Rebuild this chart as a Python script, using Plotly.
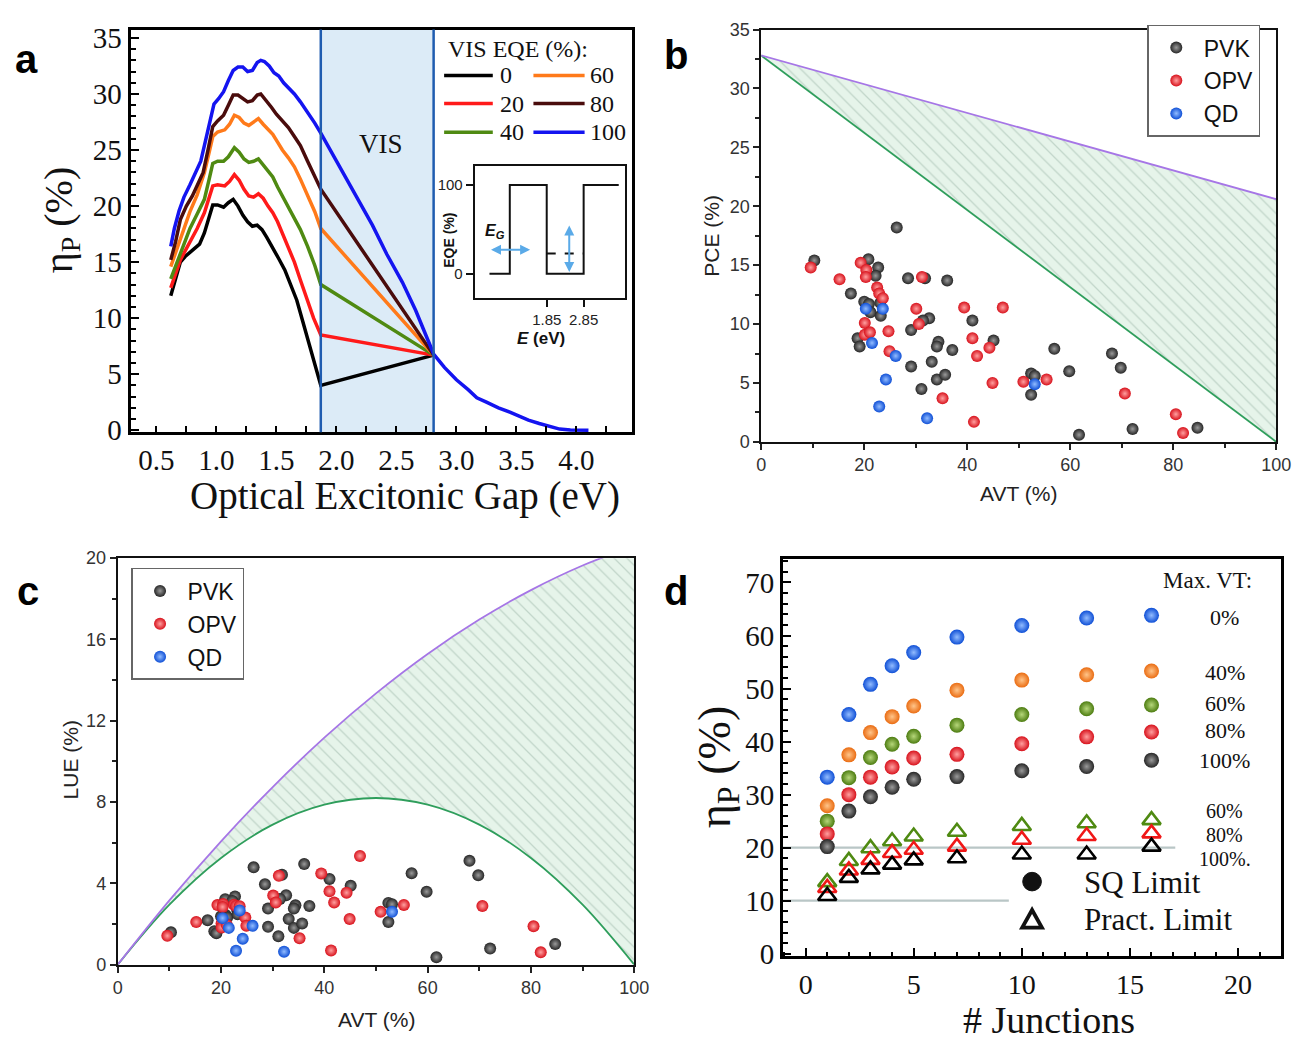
import plotly.graph_objects as go

W, H = 1309, 1050
SERIF = "Liberation Serif"
SANS = "Liberation Sans"


def fx(px):
    return px / W


def fy(py):
    return 1 - py / H


# ---------------- panel a: eta_P vs optical excitonic gap ----------------
gap_eqe0 = [0.62, 0.66, 0.70, 0.74, 0.78, 0.82, 0.86, 0.90, 0.94, 0.97, 1.01, 1.06, 1.10, 1.14,
            1.18, 1.22, 1.26, 1.30, 1.34, 1.38, 1.42, 1.47, 1.52, 1.57, 1.62, 1.67, 1.72, 1.77,
            1.82, 1.87, 2.81]
eta_eqe0 = [12.0, 13.6, 15.0, 15.5, 15.9, 16.3, 16.6, 17.6, 19.0, 20.1, 20.1, 19.9, 20.3, 20.6,
            20.0, 19.2, 18.6, 18.2, 18.3, 17.9, 17.2, 16.3, 15.3, 14.3, 13.0, 11.6, 9.7, 7.8,
            5.9, 4.0, 6.7]

gap_eqe20 = [0.62, 0.66, 0.70, 0.74, 0.78, 0.84, 0.90, 0.94, 0.97, 1.01, 1.07, 1.11, 1.15, 1.19,
             1.23, 1.27, 1.31, 1.35, 1.39, 1.43, 1.47, 1.51, 1.55, 1.60, 1.65, 1.70, 1.75, 1.81,
             1.87, 2.81]
eta_eqe20 = [12.7, 13.9, 15.2, 16.0, 16.8, 18.0, 19.4, 20.8, 21.8, 21.9, 21.8, 22.2, 22.8, 22.3,
             21.5, 20.9, 20.8, 21.1, 20.7, 20.0, 19.4, 18.6, 17.6, 16.3, 15.0, 13.4, 11.8, 10.0,
             8.5, 6.7]

gap_eqe40 = [0.62, 0.66, 0.70, 0.74, 0.78, 0.84, 0.90, 0.94, 0.97, 1.01, 1.06, 1.10, 1.15, 1.19,
             1.23, 1.27, 1.31, 1.35, 1.39, 1.43, 1.47, 1.51, 1.55, 1.60, 1.65, 1.70, 1.76, 1.82,
             1.87, 2.81]
eta_eqe40 = [13.5, 14.6, 15.9, 17.0, 18.0, 19.3, 20.6, 22.4, 23.8, 24.0, 24.0, 24.4, 25.2, 24.8,
             24.2, 23.9, 24.0, 24.2, 23.7, 23.1, 22.6, 21.7, 20.9, 20.0, 19.0, 17.9, 16.4, 14.7,
             13.0, 6.7]

gap_eqe60 = [0.62, 0.66, 0.70, 0.74, 0.78, 0.84, 0.90, 0.94, 0.97, 1.01, 1.07, 1.11, 1.15, 1.19,
             1.23, 1.27, 1.31, 1.35, 1.39, 1.43, 1.47, 1.51, 1.55, 1.60, 1.65, 1.70, 1.76, 1.82,
             1.87, 2.81]
eta_eqe60 = [14.6, 15.8, 17.2, 18.4, 19.5, 21.0, 23.0, 24.8, 26.2, 26.6, 26.8, 27.3, 28.1, 27.9,
             27.4, 27.2, 27.5, 27.8, 27.3, 26.9, 26.4, 25.7, 25.0, 24.3, 23.5, 22.4, 21.0, 19.5,
             18.0, 6.7]

gap_eqe80 = [0.62, 0.66, 0.70, 0.75, 0.80, 0.85, 0.89, 0.93, 0.97, 1.01, 1.06, 1.10, 1.14, 1.18,
             1.22, 1.26, 1.30, 1.34, 1.37, 1.41, 1.46, 1.50, 1.55, 1.60, 1.65, 1.70, 1.76, 1.82,
             1.87, 2.81]
eta_eqe80 = [15.2, 16.8, 18.8, 20.0, 20.9, 22.0, 23.0, 25.0, 27.1, 27.6, 28.1, 29.0, 29.9, 29.9,
             29.6, 29.3, 29.4, 29.9, 30.0, 29.5, 28.8, 28.2, 27.6, 27.0, 26.2, 25.4, 24.0, 22.7,
             21.5, 6.7]

gap_eqe100 = [0.62, 0.65, 0.69, 0.73, 0.78, 0.83, 0.87, 0.90, 0.94, 0.98, 1.02, 1.06, 1.10, 1.14,
              1.18, 1.22, 1.26, 1.30, 1.34, 1.37, 1.40, 1.44, 1.48, 1.52, 1.56, 1.60, 1.65, 1.70,
              1.76, 1.82, 1.87, 2.00, 2.15, 2.30, 2.42, 2.55, 2.66, 2.81, 2.90, 3.00, 3.10, 3.17,
              3.25, 3.35, 3.45, 3.52, 3.60, 3.69, 3.78, 3.86, 3.95, 4.10]
eta_eqe100 = [16.4, 18.0, 19.6, 20.8, 21.9, 23.0, 24.0, 25.4, 27.2, 29.1, 29.6, 30.2, 31.2, 32.1,
              32.4, 32.4, 32.0, 32.1, 32.8, 33.0, 32.9, 32.5, 31.9, 31.6, 31.0, 30.6, 30.0, 29.3,
              28.4, 27.4, 26.5, 24.0, 21.2, 18.3, 15.7, 13.2, 10.7, 6.8, 5.6, 4.5, 3.6, 2.9,
              2.5, 2.0, 1.6, 1.3, 0.9, 0.6, 0.3, 0.1, 0.03, 0.0]

eqe_curves = [
    ("0", gap_eqe0, eta_eqe0, "#000000"),
    ("20", gap_eqe20, eta_eqe20, "#ff1a1a"),
    ("40", gap_eqe40, eta_eqe40, "#4f8a12"),
    ("60", gap_eqe60, eta_eqe60, "#ff7a1a"),
    ("80", gap_eqe80, eta_eqe80, "#4a0c0c"),
    ("100", gap_eqe100, eta_eqe100, "#1414f0"),
]
vis_band = [1.87, 2.81]

# inset: EQE step profile
step_energy = [0.3, 0.85, 1.85, 2.85, 3.8]
step_eqe = [0, 100, 0, 100, 100]
vis_eqe_energy = [1.85, 2.85]
vis_eqe_level = [23, 23]

# ---------------- panels b, c: reported devices ----------------
pvk_avt = [26.3, 10.3, 20.8, 22.7, 22.2, 28.5, 31.8, 36.1, 17.4, 20.0, 20.9, 23.1, 21.2, 23.2,
           32.6, 31.4, 41.0, 29.1, 18.7, 19.1, 34.4, 34.1, 45.1, 37.1, 29.1, 33.1, 34.1, 35.7,
           31.1, 52.4, 53.1, 52.4, 56.9, 59.8, 61.7, 68.1, 69.8, 72.1, 84.7]
pvk_pce = [18.2, 15.4, 15.5, 14.8, 14.1, 13.9, 13.9, 13.7, 12.6, 11.9, 11.7, 11.8, 11.0, 10.7,
           10.5, 10.3, 10.3, 9.5, 8.8, 8.1, 8.5, 8.1, 8.6, 7.8, 6.4, 6.8, 5.3, 5.7,
           4.5, 5.8, 5.6, 4.0, 7.9, 6.0, 0.6, 7.5, 6.3, 1.1, 1.2]
pvk_lue = [4.79, 1.59, 3.22, 3.36, 3.13, 3.96, 4.42, 4.95, 2.19, 2.38, 2.45, 2.73, 2.33, 2.48,
           3.42, 3.23, 4.22, 2.76, 1.65, 1.55, 2.92, 2.76, 3.88, 2.89, 1.86, 2.25, 1.81, 2.03,
           1.40, 3.04, 2.97, 2.10, 4.50, 3.59, 0.37, 5.11, 4.40, 0.79, 1.02]

opv_avt = [9.6, 15.2, 19.3, 20.4, 20.3, 22.5, 22.9, 23.6, 31.2, 30.1, 20.1, 20.1, 21.1, 24.7,
           30.6, 24.9, 39.4, 46.9, 41.0, 41.9, 44.3, 44.9, 50.9, 55.4, 35.2, 41.3, 70.6, 80.5, 81.9]
opv_pce = [14.8, 13.8, 15.2, 14.6, 14.0, 13.1, 12.6, 12.2, 14.0, 11.3, 10.1, 9.1, 9.3, 9.4,
           10.0, 7.7, 11.4, 11.4, 8.8, 7.3, 8.0, 5.0, 5.1, 5.3, 3.7, 1.7, 4.1, 2.35, 0.75]
opv_lue = [1.42, 2.10, 2.93, 2.98, 2.84, 2.95, 2.89, 2.88, 4.37, 3.40, 2.03, 1.83, 1.96, 2.32,
           3.06, 1.92, 4.49, 5.35, 3.61, 3.06, 3.54, 2.25, 2.60, 2.94, 1.30, 0.70, 2.89, 1.89, 0.61]

qd_avt = [20.3, 23.6, 21.5, 26.1, 24.2, 22.9, 32.2, 53.1]
qd_pce = [11.3, 11.3, 8.4, 7.3, 5.3, 3.0, 2.0, 4.9]
qd_lue = [2.29, 2.67, 1.81, 1.91, 1.28, 0.69, 0.64, 2.60]

# theoretical bounds
bound_avt = [0, 100]
bound_pce_upper = [32.8, 20.6]
bound_pce_lower = [32.8, 0.0]
curve_avt = [0, 10, 20, 30, 40, 50, 60, 70, 80, 90, 100]
bound_lue_upper = [0, 3.16, 6.07, 8.74, 11.17, 13.35, 15.29, 16.98, 18.43, 19.64, 20.6]
bound_lue_lower = [0, 2.95, 5.25, 6.89, 7.87, 8.2, 7.87, 6.89, 5.25, 2.95, 0]

# ---------------- panel d: multijunction limits ----------------
junctions = [1, 2, 3, 4, 5, 7, 10, 13, 16]
sq_vt0 = [33.3, 45.1, 50.8, 54.3, 56.8, 59.7, 61.9, 63.3, 63.8]
sq_vt40 = [27.9, 37.5, 41.7, 44.7, 46.7, 49.7, 51.6, 52.6, 53.3]
sq_vt60 = [25.0, 33.2, 37.0, 39.5, 41.0, 43.1, 45.1, 46.2, 46.9]
sq_vt80 = [22.6, 30.0, 33.3, 35.2, 36.9, 37.6, 39.6, 40.9, 41.8]
sq_vt100 = [20.2, 26.9, 29.6, 31.4, 32.9, 33.4, 34.5, 35.3, 36.5]
pract_vt60 = [13.5, 17.5, 19.9, 21.2, 22.1, 23.0, 24.1, 24.6, 25.2]
pract_vt80 = [12.4, 15.7, 17.7, 19.0, 19.6, 20.2, 21.5, 22.2, 22.7]
pract_vt100 = [10.9, 14.3, 15.9, 16.8, 17.6, 18.0, 18.7, 18.7, 20.2]
guide_levels = [20, 10]
guide_ends = [17.1, 9.4]

vt_label_text = ["0%", "40%", "60%", "80%", "100%", "60%", "80%", "100%."]
vt_label_y = [63.4, 53.0, 47.1, 42.0, 36.5, 26.9, 22.4, 17.9]
vt_label_size = [22, 22, 22, 22, 22, 20, 20, 20]

# ---------------- styles ----------------
SPHERES = {
    "black": ("#262626", "#9a9a9a"),
    "red": ("#d8121c", "#ffa0a0"),
    "blue": ("#0f4fd6", "#92bcff"),
    "orange": ("#ea6c12", "#ffc58a"),
    "green": ("#4c7c10", "#b6d77a"),
}


def sphere(name, size):
    edge, core = SPHERES[name]
    return dict(color=edge, size=size, line=dict(width=0),
                gradient=dict(type="radial", color=core))


fig = go.Figure()

# panel a curves
for label, gx, gy, col in eqe_curves:
    fig.add_trace(go.Scatter(x=gx, y=gy, mode="lines", line=dict(color=col, width=3.5),
                             xaxis="x", yaxis="y", showlegend=False, hoverinfo="skip"))

# inset
fig.add_trace(go.Scatter(x=step_energy, y=step_eqe, mode="lines", line_shape="hv",
                         line=dict(color="#111", width=2), xaxis="x5", yaxis="y5",
                         showlegend=False, hoverinfo="skip"))
fig.add_trace(go.Scatter(x=vis_eqe_energy, y=vis_eqe_level, mode="lines",
                         line=dict(color="#111", width=2, dash="dash"), xaxis="x5", yaxis="y5",
                         showlegend=False, hoverinfo="skip"))

# panels b and c: hatched region between bounds
HATCH = dict(shape="\\", size=9, solidity=0.14, fgcolor="#9cb6a8", bgcolor="#e6f4ea")
fig.add_trace(go.Scatter(x=bound_avt, y=bound_pce_lower, mode="lines",
                         line=dict(color="#2f9e5c", width=1.8), xaxis="x2", yaxis="y2",
                         showlegend=False, hoverinfo="skip"))
fig.add_trace(go.Scatter(x=bound_avt, y=bound_pce_upper, mode="lines", fill="tonexty",
                         fillpattern=HATCH, fillcolor="#e6f4ea",
                         line=dict(color="#a676e6", width=1.8), xaxis="x2", yaxis="y2",
                         showlegend=False, hoverinfo="skip"))
fig.add_trace(go.Scatter(x=curve_avt, y=bound_lue_lower, mode="lines", line_shape="spline",
                         line=dict(color="#2f9e5c", width=1.8), xaxis="x3", yaxis="y3",
                         showlegend=False, hoverinfo="skip"))
fig.add_trace(go.Scatter(x=curve_avt, y=bound_lue_upper, mode="lines", line_shape="spline",
                         fill="tonexty", fillpattern=HATCH, fillcolor="#e6f4ea",
                         line=dict(color="#a676e6", width=1.8), xaxis="x3", yaxis="y3",
                         showlegend=False, hoverinfo="skip"))

device_sets = [("PVK", pvk_avt, pvk_pce, pvk_lue, "black"),
               ("OPV", opv_avt, opv_pce, opv_lue, "red"),
               ("QD", qd_avt, qd_pce, qd_lue, "blue")]
for name, avt, pce, lue, col in device_sets:
    fig.add_trace(go.Scatter(x=avt, y=pce, mode="markers", name=name, marker=sphere(col, 12),
                             xaxis="x2", yaxis="y2", legend="legend"))
for name, avt, pce, lue, col in device_sets:
    fig.add_trace(go.Scatter(x=avt, y=lue, mode="markers", name=name, marker=sphere(col, 12),
                             xaxis="x3", yaxis="y3", legend="legend2"))

# panel d
for lvl, end in zip(guide_levels, guide_ends):
    fig.add_trace(go.Scatter(x=[-1.05, end], y=[lvl, lvl], mode="lines",
                             line=dict(color="#b9c6c6", width=2.2), xaxis="x4", yaxis="y4",
                             showlegend=False, hoverinfo="skip"))
for vals, col in [(sq_vt0, "blue"), (sq_vt40, "orange"), (sq_vt60, "green"),
                  (sq_vt80, "red"), (sq_vt100, "black")]:
    fig.add_trace(go.Scatter(x=junctions, y=vals, mode="markers", marker=sphere(col, 15),
                             xaxis="x4", yaxis="y4", showlegend=False))
for vals, col in [(pract_vt60, "#4f8a12"), (pract_vt80, "#f01818"), (pract_vt100, "#000000")]:
    fig.add_trace(go.Scatter(x=junctions, y=vals, mode="markers",
                             marker=dict(symbol="triangle-up-open", size=16, color=col,
                                         line=dict(width=2.6, color=col)),
                             xaxis="x4", yaxis="y4", showlegend=False))

# ---------------- axes ----------------
serif_ticks = dict(family=SERIF, size=29, color="#111")
sans_ticks = dict(family=SANS, size=18, color="#333")

axis_a_common = dict(showline=True, linewidth=3, linecolor="black", mirror=True,
                     showgrid=False, zeroline=False, ticks="inside", tickwidth=2,
                     tickcolor="black")

layout = dict(
    width=W, height=H, margin=dict(l=0, r=0, t=0, b=0),
    paper_bgcolor="white", plot_bgcolor="white",
    xaxis=dict(domain=[fx(127.5), fx(637)], range=[0.285, 4.465], tick0=0.5, dtick=0.5,
               tickformat=".1f", ticklen=6, tickfont=serif_ticks, anchor="y",
               minor=dict(dtick=0.25, ticks="inside", ticklen=6, tickwidth=2,
                          tickcolor="black"),
               **axis_a_common),
    yaxis=dict(domain=[fy(432), fy(20)], range=[-0.17, 35.75], dtick=5, ticklen=8,
               tickfont=serif_ticks, anchor="x",
               minor=dict(dtick=1, ticks="inside", ticklen=5, tickwidth=2, tickcolor="black"),
               **axis_a_common),
    xaxis5=dict(domain=[fx(477), fx(630)], range=[-0.1, 3.98], anchor="y5",
                tickvals=[1.85, 2.85], ticktext=["1.85", "2.85"], ticks="outside",
                ticklen=7, tickwidth=2, tickcolor="#111",
                tickfont=dict(family=SANS, size=15, color="#222"),
                showline=True, linewidth=2, linecolor="#111", mirror=True,
                showgrid=False, zeroline=False),
    yaxis5=dict(domain=[fy(295), fy(160)], range=[-27.5, 121], anchor="x5",
                tickvals=[0, 100], ticks="outside", ticklen=7, tickwidth=2,
                tickcolor="#111", tickfont=dict(family=SANS, size=15, color="#222"),
                showline=True, linewidth=2, linecolor="#111", mirror=True,
                showgrid=False, zeroline=False),
    xaxis2=dict(domain=[fx(768), fx(1291)], range=[0, 100], dtick=20, anchor="y2",
                ticks="outside", ticklen=6, tickwidth=1.5, tickcolor="#222",
                minor=dict(dtick=10, ticks="outside", ticklen=4, tickwidth=1.5,
                           tickcolor="#222"),
                tickfont=sans_ticks, showline=True, linewidth=2, linecolor="#111",
                mirror=True, showgrid=False, zeroline=False),
    yaxis2=dict(domain=[fy(442), fy(20)], range=[0, 35], dtick=5, anchor="x2",
                ticks="outside", ticklen=6, tickwidth=1.5, tickcolor="#222",
                minor=dict(dtick=2.5, ticks="outside", ticklen=4, tickwidth=1.5,
                           tickcolor="#222"),
                tickfont=sans_ticks, showline=True, linewidth=2, linecolor="#111",
                mirror=True, showgrid=False, zeroline=False),
    xaxis3=dict(domain=[fx(114.5), fx(639)], range=[0, 100], dtick=20, anchor="y3",
                ticks="outside", ticklen=6, tickwidth=1.5, tickcolor="#222",
                minor=dict(dtick=10, ticks="outside", ticklen=4, tickwidth=1.5,
                           tickcolor="#222"),
                tickfont=sans_ticks, showline=True, linewidth=2, linecolor="#111",
                mirror=True, showgrid=False, zeroline=False),
    yaxis3=dict(domain=[fy(977), fy(561)], range=[0, 20], dtick=4, anchor="x3",
                ticks="outside", ticklen=6, tickwidth=1.5, tickcolor="#222",
                minor=dict(dtick=2, ticks="outside", ticklen=4, tickwidth=1.5,
                           tickcolor="#222"),
                tickfont=sans_ticks, showline=True, linewidth=2, linecolor="#111",
                mirror=True, showgrid=False, zeroline=False),
    xaxis4=dict(domain=[fx(790), fx(1296)], range=[-1.05, 22.0], tick0=0, dtick=5,
                anchor="y4", ticklen=8, tickfont=dict(family=SERIF, size=28, color="#111"),
                ticklabelstandoff=2,
                minor=dict(dtick=1, ticks="inside", ticklen=4, tickwidth=2,
                           tickcolor="black"),
                **axis_a_common),
    yaxis4=dict(domain=[fy(968), fy(562)], range=[-0.4, 74.4], dtick=10, anchor="x4",
                ticklen=8, tickfont=serif_ticks,
                minor=dict(dtick=2, ticks="inside", ticklen=5, tickwidth=2,
                           tickcolor="black"),
                **axis_a_common),
    legend=dict(x=fx(1160), y=fy(15), xanchor="left", yanchor="top", traceorder="normal",
                bordercolor="#666", borderwidth=1.5, bgcolor="white",
                font=dict(family=SANS, size=23, color="#111"), itemwidth=45,
                tracegroupgap=0),
    legend2=dict(x=fx(128), y=fy(571), xanchor="left", yanchor="top", traceorder="normal",
                 bordercolor="#666", borderwidth=1.5, bgcolor="white",
                 font=dict(family=SANS, size=23, color="#111"), itemwidth=45,
                 tracegroupgap=0),
)
fig.update_layout(**layout)

# ---------------- shapes ----------------
shapes = []
# VIS band
shapes.append(dict(type="rect", xref="x", yref="y domain", x0=vis_band[0], x1=vis_band[1],
                   y0=0, y1=1, fillcolor="#dcebf7", line=dict(width=0), layer="below"))
for xv in vis_band:
    shapes.append(dict(type="line", xref="x", yref="y domain", x0=xv, x1=xv, y0=0, y1=1,
                       line=dict(color="#1f5cb0", width=2.5), layer="above"))

# panel a legend keys (two columns)
key_rows = [0.886, 0.816, 0.745]
key_cols = [(0.625, 0.722), (0.803, 0.905)]
key_order = [(0, 0), (0, 1), (0, 2), (1, 0), (1, 1), (1, 2)]
for (label, gx, gy, col), (ci, ri) in zip(eqe_curves, key_order):
    x0, x1 = key_cols[ci]
    shapes.append(dict(type="line", xref="x domain", yref="y domain", x0=x0, x1=x1,
                       y0=key_rows[ri], y1=key_rows[ri], line=dict(color=col, width=3.5)))

# panel d legend keys
shapes.append(dict(type="circle", xref="paper", yref="paper",
                   x0=fx(1043 - 9.5), x1=fx(1043 + 9.5), y0=fy(892 + 9.5), y1=fy(892 - 9.5),
                   fillcolor="#111", line=dict(color="#111", width=1)))
shapes.append(dict(type="path", xref="paper", yref="paper",
                   path="M {} {} L {} {} L {} {} Z".format(fx(1043), fy(921), fx(1033), fy(939),
                                                           fx(1053), fy(939)),
                   fillcolor="white", line=dict(color="#111", width=3.8)))
fig.update_layout(shapes=shapes)

# ---------------- annotations ----------------
ann = []


def text(px, py, t, size, family=SERIF, angle=0, color="#111", xanchor="center", **kw):
    ann.append(dict(x=fx(px), y=fy(py), xref="paper", yref="paper", text=t, showarrow=False,
                    textangle=angle, xanchor=xanchor, yanchor="middle",
                    font=dict(family=family, size=size, color=color), **kw))


# panel letters
for letter, px, py in [("a", 22, 50), ("b", 681, 46), ("c", 23, 595), ("d", 681, 595)]:
    text(px, py, "<b>" + letter + "</b>", 40, family=SANS, color="black")

# panel a titles and labels
text(406, 497, "Optical Excitonic Gap (eV)", 39)
text(57, 215, "η<sub>P</sub> (%)", 40, angle=-90)
ann.append(dict(x=2.37, y=25.5, xref="x", yref="y", text="VIS", showarrow=False,
                font=dict(family=SERIF, size=27, color="#111")))
ann.append(dict(x=0.628, y=0.951, xref="x domain", yref="y domain", text="VIS EQE (%):",
                showarrow=False, xanchor="left", yanchor="middle",
                font=dict(family=SERIF, size=24, color="#111")))
label_x = [0.732, 0.912]
for (label, gx, gy, col), (ci, ri) in zip(eqe_curves, key_order):
    ann.append(dict(x=label_x[ci], y=key_rows[ri], xref="x domain", yref="y domain",
                    text=label, showarrow=False, xanchor="left", yanchor="middle",
                    font=dict(family=SERIF, size=24, color="#111")))

# inset labels and arrows
text(450, 236, "<b>EQE (%)</b>", 14, family=SANS, angle=-90)
text(544, 336, "<b><i>E</i> (eV)</b>", 17, family=SANS)
ann.append(dict(x=0.45, y=48, xref="x5", yref="y5", text="<b><i>E<sub>G</sub></i></b>",
                showarrow=False, font=dict(family=SANS, size=16, color="#111")))
arrow_style = dict(showarrow=True, arrowhead=2, arrowsize=1, arrowwidth=2,
                   arrowcolor="#5aaae8", arrowside="end+start", text="",
                   xref="x5", yref="y5", axref="x5", ayref="y5")
ann.append(dict(x=1.4, y=27, ax=0.3, ay=27, **arrow_style))
ann.append(dict(x=2.46, y=2, ax=2.46, ay=56, **arrow_style))

# panel b, c titles
text(1029, 495, "AVT (%)", 21, family=SANS, color="#222")
text(718, 231, "PCE (%)", 21, family=SANS, color="#222", angle=-90)
text(377, 1033, "AVT (%)", 21, family=SANS, color="#222")
text(66, 767, "LUE (%)", 21, family=SANS, color="#222", angle=-90)

# panel d titles and labels
text(1060, 1034, "# Junctions", 38)
text(724, 775, "η<sub>P</sub> (%)", 46, angle=-90)
ann.append(dict(x=18.6, y=70.3, xref="x4", yref="y4", text="Max. VT:", showarrow=False,
                font=dict(family=SERIF, size=23, color="#111")))
for t, yv, sz in zip(vt_label_text, vt_label_y, vt_label_size):
    ann.append(dict(x=19.4, y=yv, xref="x4", yref="y4", text=t, showarrow=False,
                    font=dict(family=SERIF, size=sz, color="#111")))
text(1094, 893, "SQ Limit", 31, xanchor="left")
text(1094, 931, "Pract. Limit", 31, xanchor="left")

fig.update_layout(annotations=ann)

fig.write_html("out.html")
